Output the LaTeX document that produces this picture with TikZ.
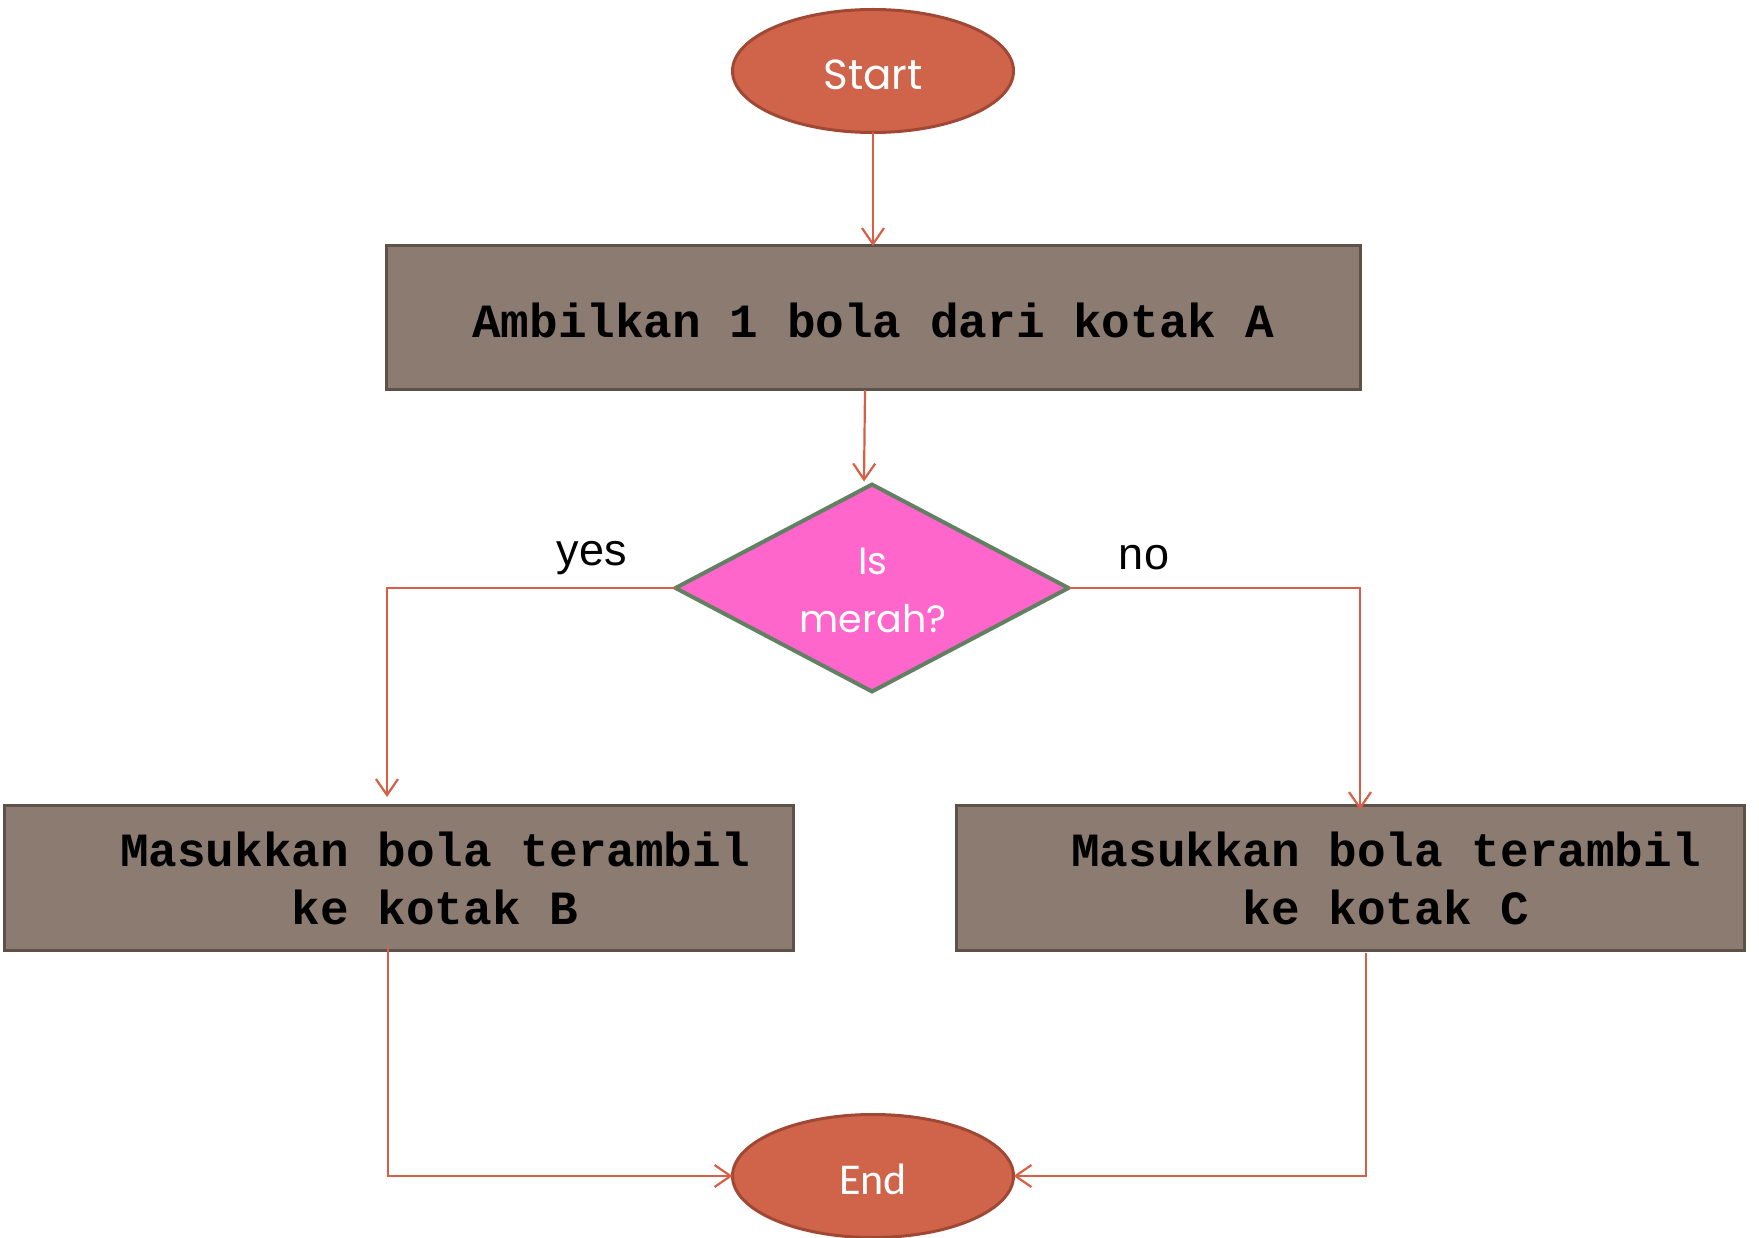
\documentclass[tikz,border=0pt]{standalone}
\usepackage{fontspec}
\setmainfont{Liberation Sans}
\setmonofont{Liberation Mono}
\newfontfamily\roundfont{Poppins}
\newfontfamily\endfont{Carlito}
\usetikzlibrary{shapes.geometric,arrows.meta}

\definecolor{termfill}{RGB}{208,100,74}
\definecolor{termdraw}{RGB}{160,72,52}
\definecolor{boxfill}{RGB}{140,123,112}
\definecolor{boxdraw}{RGB}{94,81,71}
\definecolor{decfill}{RGB}{255,102,204}
\definecolor{decdraw}{RGB}{98,128,98}
\definecolor{flow}{RGB}{214,95,70}

\tikzset{
  terminal/.style={ellipse, fill=termfill, draw=termdraw, line width=3pt,
    minimum width=281pt, minimum height=123pt, inner sep=0pt, outer sep=0pt},
  termtext/.style={text=white, inner sep=0pt},
  procbox/.style={rectangle, fill=boxfill, draw=boxdraw, line width=3pt,
    inner sep=0pt, outer sep=0pt},
  decision/.style={diamond, fill=decfill, draw=decdraw, line width=4pt,
    minimum width=393pt, minimum height=207pt, inner sep=0pt, outer sep=0pt},
  boxtext/.style={font=\fontsize{47.7}{58}\selectfont\ttfamily\bfseries,
    align=center, inner sep=0pt},
  branchlabel/.style={font=\fontsize{45}{54}\selectfont, inner sep=0pt},
  arr/.style={draw=flow, line width=2.2pt,
    -{Straight Barb[length=16pt,width=22pt,line width=2.2pt]}},
}

\begin{document}
\begin{tikzpicture}[x=1pt,y=-1pt]
  \useasboundingbox (0,0) rectangle (1759,1238);

  % terminals
  \node[terminal] (S) at (873,71) {};
  \node[termtext, font=\fontsize{42}{50}\selectfont\roundfont] (St) at (873,75) {Start};
  \node[terminal] (E) at (873,1176) {};
  \node[termtext, font=\fontsize{44}{52}\selectfont\endfont] (Et) at (873,1179) {End};

  % process boxes
  \node[procbox, minimum width=974pt, minimum height=144pt] (A) at (873,318) {};
  \node[boxtext] (At) at (873,320) {Ambilkan 1 bola dari kotak A};

  \node[procbox, minimum width=789pt, minimum height=145pt] (B) at (399,878) {};
  \node[boxtext] (Bt) at (435,878) {Masukkan bola terambil\\ke kotak B};

  \node[procbox, minimum width=788pt, minimum height=145pt] (C) at (1350,878) {};
  \node[boxtext] (Ct) at (1386,878) {Masukkan bola terambil\\ke kotak C};

  % decision
  \node[decision] (D) at (872,588) {};
  \node[font=\fontsize{38}{58}\selectfont\roundfont, text=white, align=center,
        inner sep=0pt] (Dt) at (873,590) {Is\\merah?};

  % branch labels
  \node[branchlabel] (yes) at (592,558) {yes};
  \node[branchlabel] (no) at (1144,558) {no};

  % connector end points
  \coordinate (yb) at (387,797);
  \coordinate (nc) at (1360,810);

  % flow
  \draw[arr] (S) -- (A);
  \draw[arr] ([xshift=-8pt]A.south) -- ([xshift=-8pt,yshift=3pt]D.north);
  \draw[arr] (D.west) -| (yb);
  \draw[arr] (D.east) -| (nc);
  \draw[arr] ([xshift=-11pt,yshift=4pt]B.south) |- (E.west);
  \draw[arr] ([xshift=16pt,yshift=-2pt]C.south) |- (E.east);
\end{tikzpicture}
\end{document}
